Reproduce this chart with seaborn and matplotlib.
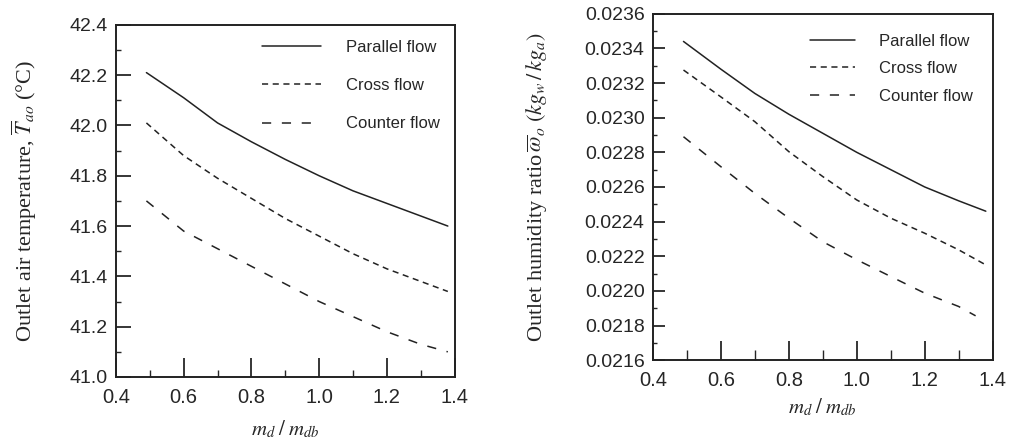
import pandas as pd
import numpy as np
import matplotlib
matplotlib.use('Agg')
import matplotlib.pyplot as plt
import seaborn as sns

# ---- data ----
flows = ['Parallel flow', 'Cross flow', 'Counter flow']

# left panel: outlet air temperature
x_temp = [0.49, 0.6, 0.7, 0.8, 0.9, 1.0, 1.1, 1.2, 1.3, 1.38]
temp_parallel = [42.21, 42.11, 42.01, 41.935, 41.865, 41.80, 41.74, 41.69, 41.64, 41.60]
temp_cross = [42.01, 41.88, 41.79, 41.71, 41.63, 41.56, 41.49, 41.43, 41.38, 41.34]
temp_counter = [41.70, 41.58, 41.51, 41.44, 41.37, 41.30, 41.24, 41.18, 41.13, 41.10]

# right panel: outlet humidity ratio
x_hum = [0.49, 0.6, 0.7, 0.8, 0.9, 1.0, 1.1, 1.2, 1.3, 1.38]
hum_parallel = [0.02344, 0.02328, 0.02314, 0.02302, 0.02291, 0.02280, 0.02270, 0.02260, 0.02252, 0.02246]
hum_cross = [0.023275, 0.02312, 0.022977, 0.022804, 0.02266, 0.022525, 0.02242, 0.022333, 0.022237, 0.02215]
x_hum_counter = [0.49, 0.6, 0.7, 0.8, 0.9, 1.0, 1.1, 1.2, 1.3, 1.35]
hum_counter = [0.02289, 0.022717, 0.022563, 0.02242, 0.022284, 0.02218, 0.022083, 0.021987, 0.02191, 0.021856]


def long_df(xs, ys, names):
    rows = []
    for xv, yv, n in zip(xs, ys, names):
        for a, b in zip(xv, yv):
            rows.append({'x': a, 'y': b, 'flow': n})
    return pd.DataFrame(rows)


df_temp = long_df([x_temp, x_temp, x_temp], [temp_parallel, temp_cross, temp_counter], flows)
df_hum = long_df([x_hum, x_hum, x_hum_counter], [hum_parallel, hum_cross, hum_counter], flows)

sns.set_style('ticks')
plt.rcParams['font.family'] = ['Liberation Sans', 'DejaVu Sans']
plt.rcParams['mathtext.fontset'] = 'stix'

dashes = {'Parallel flow': '', 'Cross flow': (4, 3), 'Counter flow': (6, 7)}
serif = ['Liberation Serif', 'DejaVu Serif']

fig = plt.figure(figsize=(10.17, 4.43), dpi=100)
ax1 = fig.add_axes([0.114, 0.149, 0.333, 0.795])
ax2 = fig.add_axes([0.642, 0.187, 0.334, 0.782])


def style_axis(ax, ylen, yminlen, xminlen):
    for s in ax.spines.values():
        s.set_linewidth(1.4)
        s.set_color('#222222')
    ax.tick_params(axis='y', which='major', direction='in', length=ylen, width=1.3,
                   labelsize=14, right=False, pad=6)
    ax.tick_params(axis='y', which='minor', direction='in', length=yminlen, width=1.0, right=False)
    ax.tick_params(axis='x', which='major', direction='in', length=14, width=1.3,
                   labelsize=14.5, top=False, pad=8)
    ax.tick_params(axis='x', which='minor', direction='in', length=xminlen, width=1.0, top=False)
    ax.set_xlim(0.4, 1.4)
    ax.set_xticks(np.arange(0.4, 1.41, 0.2))
    ax.set_xticks(np.arange(0.5, 1.4, 0.2), minor=True)
    ax.xaxis.set_major_formatter(matplotlib.ticker.FormatStrFormatter('%.1f'))


sns.lineplot(data=df_temp, x='x', y='y', style='flow', dashes=dashes, color='#222222',
             linewidth=1.1, ax=ax1, style_order=flows)
ax1.set_ylim(41.0, 42.4)
ax1.set_yticks(np.arange(41.0, 42.41, 0.2))
ax1.set_yticks(np.arange(41.1, 42.4, 0.2), minor=True)
ax1.yaxis.set_major_formatter(matplotlib.ticker.FormatStrFormatter('%.1f'))
ax1.set_ylabel(r'Outlet air temperature, $\overline{T}_{ao}$ (°C)', fontsize=16,
               family=serif, labelpad=22)
ax1.set_xlabel(r'$m_d\;/\;m_{db}$', fontsize=15, labelpad=8)
style_axis(ax1, 11, 3.6, 5)
ax1.legend(frameon=False, loc='upper right', handlelength=3.5, handletextpad=1.5,
           labelspacing=1.4, fontsize=12, borderaxespad=0.5)

sns.lineplot(data=df_hum, x='x', y='y', style='flow', dashes=dashes, color='#222222',
             linewidth=1.1, ax=ax2, style_order=flows)
ax2.set_ylim(0.0216, 0.0236)
ax2.set_yticks(np.arange(0.0216, 0.02361, 0.0002))
ax2.set_yticks(np.arange(0.0217, 0.0236, 0.0002), minor=True)
ax2.yaxis.set_major_formatter(matplotlib.ticker.FormatStrFormatter('%.4f'))
ax2.set_ylabel(r'Outlet humidity ratio$\,\overline{\omega}_o$ $(kg_w\,/\,kg_a)$', fontsize=16,
               family=serif, labelpad=26)
ax2.set_xlabel(r'$m_d\;/\;m_{db}$', fontsize=15, labelpad=4)
style_axis(ax2, 8.6, 3, 7)
ax2.legend(frameon=False, loc='upper right', handlelength=2.7, handletextpad=1.4,
           labelspacing=0.75, fontsize=12, borderaxespad=0.8)

plt.savefig('out.png', dpi=100)
